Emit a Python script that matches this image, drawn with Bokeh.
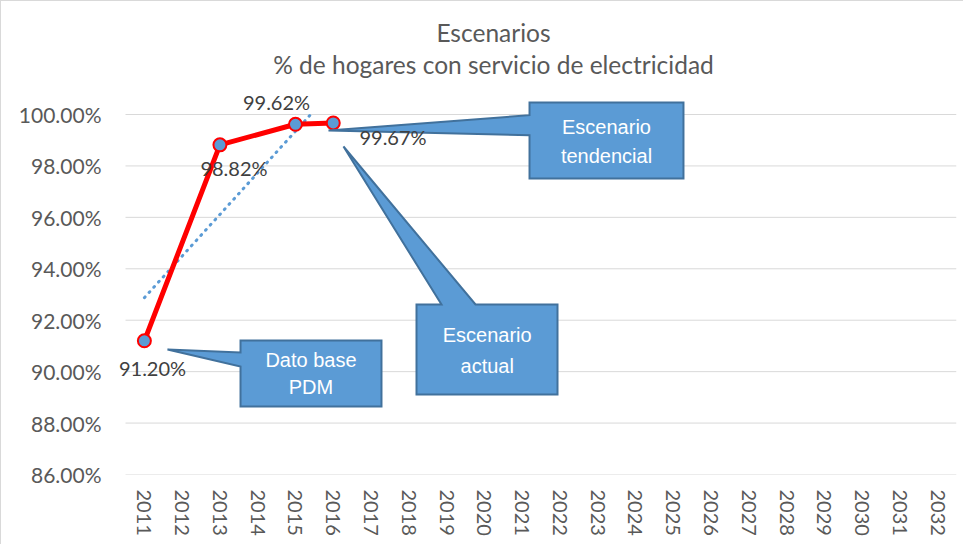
import numpy as np
from bokeh.plotting import figure
from bokeh.models import Range1d, FixedTicker, PrintfTickFormatter, Label
from bokeh.embed import file_html
from bokeh.resources import INLINE

# ---------------- data ----------------
categories = ["2011", "2012", "2013", "2014", "2015", "2016", "2017", "2018",
              "2019", "2020", "2021", "2022", "2023", "2024", "2025", "2026",
              "2027", "2028", "2029", "2030", "2031", "2032"]
series_years = ["2011", "2013", "2015", "2016"]
series_values = [91.20, 98.82, 99.62, 99.67]
series_labels = ["91.20%", "98.82%", "99.62%", "99.67%"]
y_ticks = [86, 88, 90, 92, 94, 96, 98, 100]
title_lines = ["Escenarios", "% de hogares con servicio de electricidad"]

# label anchors (category offset, value) for each data label
label_pos_x = [0.715, 2.872, 3.998, 7.082]
label_pos_y = [90.16, 97.92, 100.47, 99.11]

# callouts: polygon in (category offset, value) and text lines
callouts = [
    dict(xs=[10.696, 14.772, 14.772, 10.696, 10.696, 5.374, 10.696],
         ys=[100.467, 100.467, 97.511, 97.511, 99.195, 99.377, 99.973],
         cx=12.734, lines=[("Escenario", 99.495), ("tendencial", 98.367)]),
    dict(xs=[7.704, 8.366, 5.771, 9.266, 11.437, 11.437, 7.704],
         ys=[92.611, 92.611, 98.756, 92.611, 92.611, 89.111, 89.111],
         cx=9.576, lines=[("Escenario", 91.417), ("actual", 90.220)]),
    dict(xs=[3.045, 6.777, 6.777, 3.045, 3.045, 1.112, 3.045],
         ys=[91.211, 91.211, 88.644, 88.644, 90.200, 90.861, 90.744],
         cx=4.911, lines=[("Dato base", 90.445), ("PDM", 89.422)]),
]

FONT = "Lato"
GREY = "#595959"

px_per_cat = 831 / len(categories)
x_start = -10 / px_per_cat
y_start, y_end = 86, 86 + 14 * 463 / 360

p = figure(width=963, height=544, output_backend="svg", toolbar_location=None,
           x_range=Range1d(x_start, len(categories)), y_range=Range1d(y_start, y_end),
           min_border_left=114, min_border_right=8, min_border_top=10,
           min_border_bottom=71)
p.outline_line_color = None
p.background_fill_color = "white"
p.border_fill_color = "white"
p.styles = {"border-left": "1px solid #D9D9D9", "border-top": "1px solid #D9D9D9"}

# axes
p.xaxis.ticker = FixedTicker(ticks=[i + 0.5 for i in range(len(categories))])
p.xaxis.major_label_overrides = {i + 0.5: c for i, c in enumerate(categories)}
p.xaxis.major_label_orientation = "vertical"
p.xaxis.axis_line_color = None
p.xaxis.major_tick_line_color = None
p.xaxis.minor_tick_line_color = None
p.xaxis.major_label_standoff = 9
p.xaxis.major_label_text_font = FONT
p.xaxis.major_label_text_font_size = "20px"
p.xaxis.major_label_text_color = GREY

p.yaxis.ticker = FixedTicker(ticks=y_ticks)
p.yaxis.formatter = PrintfTickFormatter(format="%.2f%%")
p.yaxis.axis_line_color = None
p.yaxis.major_tick_line_color = None
p.yaxis.minor_tick_line_color = None
p.yaxis.major_label_standoff = 8
p.yaxis.major_label_text_font = FONT
p.yaxis.major_label_text_font_size = "21px"
p.yaxis.major_label_text_color = GREY

p.xgrid.grid_line_color = None
p.ygrid.grid_line_color = None

# horizontal gridlines spanning the category area
p.segment(x0=[0] * len(y_ticks), x1=[len(categories)] * len(y_ticks),
          y0=y_ticks, y1=y_ticks, line_color="#D9D9D9", line_width=1)

# data positions
xs = [categories.index(y) + 0.5 for y in series_years]

# linear trendline (least squares), clipped at 100 %
m, b = np.polyfit(xs, series_values, 1)
t_x0 = xs[0]
t_x1 = (y_ticks[-1] - b) / m
p.line([t_x0, t_x1], [m * t_x0 + b, m * t_x1 + b], line_color="#5B9BD5",
       line_width=3, line_dash="1 6", line_cap="round")

# main series
p.line(xs, series_values, line_color="#FF0000", line_width=5, line_join="round")
p.scatter(xs, series_values, size=13, fill_color="#5B9BD5", line_color="#FF0000",
          line_width=2)

# callouts
for c in callouts:
    p.patch(c["xs"], c["ys"], fill_color="#5B9BD5", line_color="#41719C",
            line_width=2, line_join="miter")
    for txt, yy in c["lines"]:
        p.add_layout(Label(x=c["cx"], y=yy, text=txt, text_align="center",
                           text_baseline="middle", text_color="white",
                           text_font="Liberation Sans",
                           text_font_size="20px"))

# data labels
for lx, ly, t in zip(label_pos_x, label_pos_y, series_labels):
    p.add_layout(Label(x=lx, y=ly, text=t, text_align="center",
                       text_baseline="middle", text_color="#404040",
                       text_font=FONT, text_font_size="20px"))

# title (two lines)
p.add_layout(Label(x=9.742, y=103.19, text=title_lines[0], text_align="center",
                   text_baseline="middle", text_color=GREY, text_font=FONT,
                   text_font_size="24.5px"))
p.add_layout(Label(x=9.742, y=101.95, text=title_lines[1], text_align="center",
                   text_baseline="middle", text_color=GREY, text_font=FONT,
                   text_font_size="24.5px"))

open("out.html", "w").write(file_html(p, INLINE))
